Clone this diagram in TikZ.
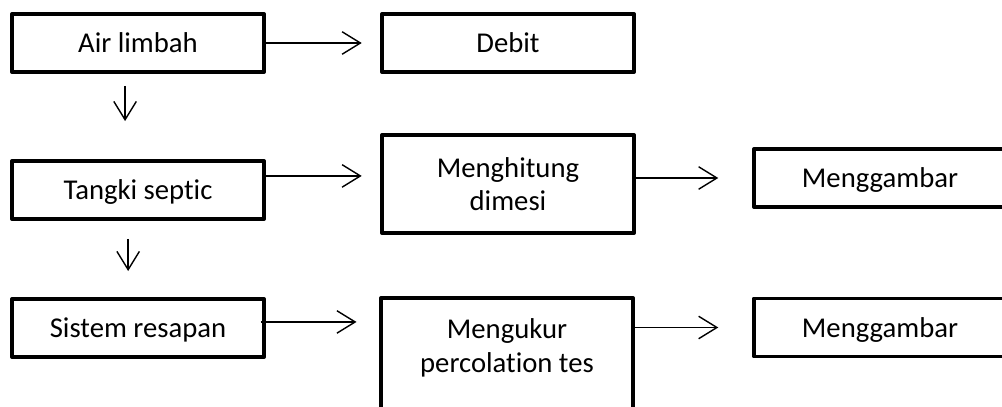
\documentclass[tikz,border=0pt]{standalone}
\usepackage{fontspec}
\setmainfont[Ligatures=NoCommon]{Carlito}
\usetikzlibrary{arrows.meta,positioning,calc}
\tikzset{
  procbox/.style={rectangle,draw=black,line width=2.8pt,line join=round,
                  fill=white,minimum width=6.3cm,minimum height=1.45cm,
                  font=\fontsize{20.4}{23.6}\selectfont},
  onebox/.style={procbox,text height=14pt,text depth=0pt},
  arr/.style={-{Straight Barb[length=13pt,width=16pt]},line width=1pt},
}
\begin{document}
\begin{tikzpicture}[x=0.025cm,y=-0.025cm]
  \useasboundingbox (0,0) rectangle (1002,407);
  \clip (0,0) rectangle (1002,407);

  % kolom kiri
  \node[onebox] (air) at (138,43) {Air limbah};
  \node[onebox] (septic) at (138,190) {Tangki septic};
  \node[onebox] (resapan) at (138,328) {Sistem resapan};

  % kolom tengah
  \node[onebox] (debit) at (508,43) {Debit};
  \node[procbox,minimum height=2.45cm,align=center,text depth=-3pt]
    (hitung) at (508,184) {Menghitung\\dimesi};
  \node[procbox,align=center,anchor=north,inner ysep=15pt,text depth=3cm]
    (ukur) at (507,296) {Mengukur\\percolation tes};

  % kolom kanan
  \node[onebox] (gambarA) at (880,178) {Menggambar};
  \node[onebox] (gambarB) at (880,327.5) {Menggambar};

  % panah mendatar
  \coordinate (s1) at ([yshift=10pt]septic.east);
  \coordinate (s2) at ([xshift=-3.6pt,yshift=4.3pt]resapan.east);
  \draw[arr,shorten >=13pt] (air.east) -- (debit.west);
  \draw[arr,shorten >=13pt] (s1) -- (s1 -| hitung.west);
  \draw[arr,shorten >=16pt] (s2) -- (s2 -| ukur.west);
  \draw[arr,shorten >=24pt] (gambarA -| hitung.east) -- (gambarA.west);
  \draw[arr,shorten >=24pt] (gambarB -| ukur.east) -- (gambarB.west);

  % panah ke bawah
  \draw[arr,shorten <=8.5pt,shorten >=27pt]
    ([xshift=-9.2pt]air.south) -- ([xshift=-9.2pt]septic.north);
  \draw[arr,shorten <=12.8pt,shorten >=18.5pt]
    ([xshift=-7pt]septic.south) -- ([xshift=-7pt]resapan.north);
\end{tikzpicture}
\end{document}
